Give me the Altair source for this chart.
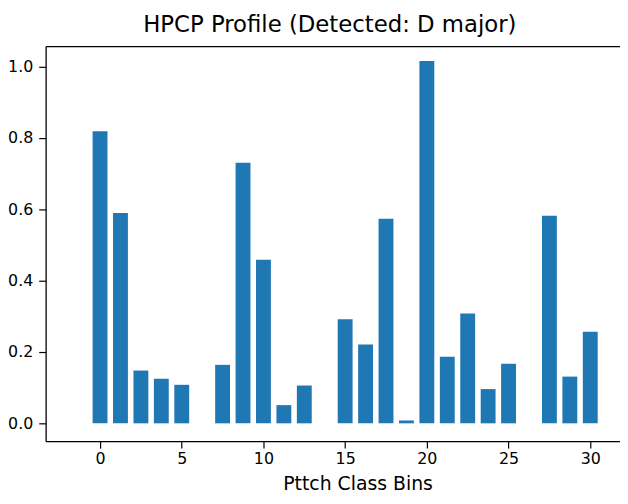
import altair as alt
import pandas as pd

bins = [0, 1.25, 2.5, 3.75, 5, 7.5, 8.75, 10, 11.25, 12.5, 15, 16.25, 17.5,
        18.75, 20, 21.25, 22.5, 23.75, 25, 27.5, 28.75, 30]
values = [0.819, 0.590, 0.148, 0.125, 0.108, 0.164, 0.731, 0.459, 0.051, 0.106,
          0.292, 0.221, 0.574, 0.008, 1.016, 0.187, 0.308, 0.096, 0.167, 0.582,
          0.131, 0.257]
x_ticks = [0, 5, 10, 15, 20, 25, 30]
y_ticks = [0.0, 0.2, 0.4, 0.6, 0.8, 1.0]
title_text = "HPCP Profile (Detected: D major)"
x_title = "Pttch Class Bins"

df = pd.DataFrame({"bin": bins, "value": values})

FONT = "DejaVu Sans"
x_scale = alt.Scale(domain=[-3.33, 31.82], nice=False, zero=False)
y_scale = alt.Scale(domain=[-0.05, 1.058], nice=False, zero=False)

bars = (
    alt.Chart(df)
    .transform_calculate(x0="datum.bin - 0.455", x1="datum.bin + 0.455")
    .mark_bar(color="#1f77b4")
    .encode(
        x=alt.X(
            "x0:Q",
            scale=x_scale,
            axis=alt.Axis(values=x_ticks, title=x_title, format="d",
                          labelPadding=3, titlePadding=8, titleX=315),
        ),
        x2="x1:Q",
        y=alt.Y(
            "value:Q",
            scale=y_scale,
            axis=alt.Axis(values=y_ticks, title=None, format=".1f",
                          labelPadding=6),
        ),
        y2=alt.datum(0),
    )
)

top_spine = (
    alt.Chart(df)
    .mark_point(opacity=0)
    .encode(
        x=alt.X("bin:Q", scale=x_scale,
                axis=alt.Axis(orient="top", labels=False, ticks=False,
                              title=None)),
    )
)

chart = (
    alt.layer(bars, top_spine)
    .resolve_axis(x="independent")
    .properties(
        width=580,
        height=399,
        autosize=alt.AutoSizeParams(type="none"),
        padding={"left": 38, "top": 36, "right": 0, "bottom": 55},
        title=alt.TitleParams(title_text, font=FONT, fontSize=23,
                              fontWeight="normal", color="black",
                              anchor="middle", offset=9, dx=-3),
    )
    .configure_view(stroke=None)
    .configure_axis(
        grid=False,
        domainColor="black",
        domainWidth=1.3,
        tickColor="black",
        tickSize=7,
        tickWidth=1.2,
        labelFont=FONT,
        labelFontSize=16,
        labelColor="black",
        titleFont=FONT,
        titleFontSize=19,
        titleFontWeight="normal",
        titleColor="black",
    )
)

chart.save("out.html", embed_options={"renderer": "svg", "actions": False})
